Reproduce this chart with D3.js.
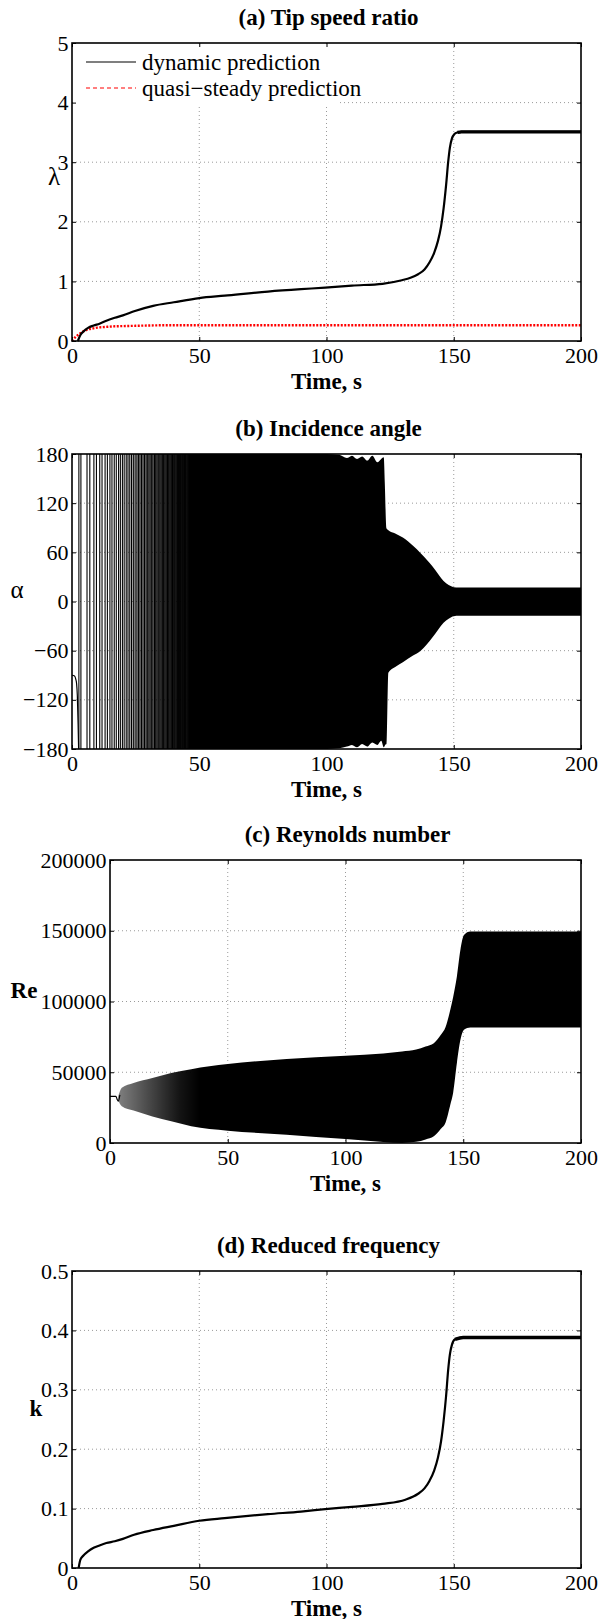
<!DOCTYPE html>
<html>
<head>
	<title>Rotor start-up: tip speed ratio, incidence, Reynolds, reduced frequency</title>
	<script src="https://d3js.org/d3.v7.min.js"></script>
	<style>
		body { margin: 0; background: #fff; }
		svg text { font-family: "Liberation Serif", "Times New Roman", Times, serif; fill: #000; }
		.tick line { stroke: #000; stroke-width: 1; }
		.grid { stroke: #9a9a9a; stroke-width: 1; stroke-dasharray: 1,3; }
	</style>
</head>
<body>
	<div id="plot"></div>
	<script type="text/javascript">
		// vars
		var w = 601, h = 1619;
		var serif = '"Liberation Serif", "Times New Roman", Times, serif';

		// data
		var timeTicks = [0, 50, 100, 150, 200];

		// (a) tip speed ratio
		var lambdaTicks = [0, 1, 2, 3, 4, 5];
		var lambdaT   = [2.3, 3.3, 4.5, 6.3, 8.5, 10.8, 13.5, 16.8, 20, 24.4, 31.9, 40, 50, 60, 77, 90, 99.5, 110, 122, 129.6, 133, 136, 138.5, 140.5, 142.3, 143.8, 145, 146, 147, 147.8, 148.5, 149.3, 150.2, 151.5, 153, 200];
		var lambdaDyn = [0, 0.1, 0.16, 0.22, 0.26, 0.29, 0.34, 0.39, 0.43, 0.5, 0.59, 0.65, 0.72, 0.76, 0.83, 0.87, 0.895, 0.93, 0.96, 1.02, 1.06, 1.12, 1.2, 1.32, 1.48, 1.68, 1.92, 2.22, 2.62, 3.0, 3.25, 3.4, 3.47, 3.5, 3.51, 3.51];
		var lambdaQsT = [0, 1, 2, 3, 4, 6, 8, 10, 13, 16, 20, 25, 30, 40, 60, 100, 150, 200];
		var lambdaQs  = [0, 0.05, 0.09, 0.12, 0.15, 0.19, 0.21, 0.225, 0.235, 0.245, 0.25, 0.255, 0.26, 0.265, 0.265, 0.265, 0.265, 0.265];

		// (b) incidence angle: start curve, wrap strokes of the early part, envelope of the dense part
		var alphaTicks = [-180, -120, -60, 0, 60, 120, 180];
		var alphaInitT = [0, 1, 1.5, 1.8, 2.1, 2.4, 2.6];
		var alphaInit  = [-90, -91, -95, -100, -115, -150, -180];
		var alphaStrokeT = [2.7, 3.5, 5.9, 7.0, 8.6, 9.6, 10.9, 11.8, 13.0, 13.9, 14.9, 15.7, 16.6, 17.4, 18.3, 19.0, 19.8, 20.5, 21.3, 22.0, 22.7, 23.4, 24.1, 24.8,
			25.5, 26.1, 26.7, 27.3, 27.9, 28.5, 29.1, 29.6, 30.2, 30.7, 31.3, 31.8, 32.4, 32.9, 33.4, 33.9, 34.5, 35.0, 35.5, 36.0, 36.5, 37.0, 37.5, 38.0,
			38.5, 39.0, 39.5, 40.0, 40.4, 40.9, 41.4, 41.8, 42.3, 42.7, 43.2, 43.6, 44.1, 44.5];
		var alphaEnvT  = [3, 100, 105, 108, 110, 112, 114, 116, 118, 120, 121.5, 122.5, 122.9, 123.5, 123.6, 124.3, 127, 130, 134, 137, 141.6, 144, 146, 148, 150, 152, 200];
		var alphaUpper = [180, 180, 179, 175, 178, 174, 177, 172, 178, 170, 174, 176, 145, 90, 89, 87, 83, 78, 68, 59, 43, 33, 25, 20, 17.5, 17, 17];
		var alphaLower = [-180, -180, -179, -177, -175, -178, -174, -177, -172, -175, -170, -178, -176, -174, -175, -87, -80, -74, -66, -60, -44, -34, -26, -21, -18, -17.5, -17.5];

		// (c) Reynolds number
		var reTicks = [0, 50000, 100000, 150000, 200000];
		var reInitT = [0, 2.5, 3.0, 3.5, 4.2];
		var reInit  = [33000, 33000, 31000, 29500, 34000];
		var reEnvT  = [3.5, 5, 10, 18, 26, 34.5, 50, 75, 100, 116, 124, 130, 134, 137.5, 140.5, 142.5, 144.5, 145.7, 147.3, 148.8, 150.3, 153, 200];
		var reUpper = [33000, 39000, 42400, 45900, 49400, 52200, 55800, 59300, 61600, 63300, 64700, 66000, 68200, 70500, 76500, 82000, 94100, 103000, 117600, 136500, 147000, 149400, 149400];
		var reLower = [30000, 26000, 23000, 18800, 15300, 11800, 8700, 5900, 2800, 700, 0, 800, 2500, 4700, 10000, 14500, 27000, 35300, 56500, 72900, 80000, 81600, 81600];

		// (d) reduced frequency
		var kTicks = [0, 0.1, 0.2, 0.3, 0.4, 0.5];
		var kT   = [2.6, 3.3, 4.5, 6.3, 8.5, 10.8, 13.5, 16.8, 20, 24.4, 31.9, 40, 50, 60, 77, 90, 99.5, 110, 122, 131, 136, 138.5, 140.5, 142.3, 143.8, 145, 146, 147, 147.8, 148.5, 149.3, 150.5, 153.7, 200];
		var kDyn = [0, 0.014, 0.021, 0.028, 0.034, 0.038, 0.042, 0.045, 0.049, 0.056, 0.064, 0.071, 0.0795, 0.084, 0.0907, 0.095, 0.099, 0.103, 0.108, 0.115, 0.125, 0.134, 0.147, 0.164, 0.186, 0.213, 0.247, 0.29, 0.333, 0.36, 0.376, 0.385, 0.388, 0.388];

		var svg = d3.select("#plot")
			.append("svg")
			.attr("width", w)
			.attr("height", h)
			.style("font-family", serif);
		svg.append("rect").attr("width", w).attr("height", h).attr("fill", "#fff");
		var defs = svg.append("defs");

		// one set of axes: box, inward ticks on all sides, dotted grid, labels
		function panel(p) {
			var x = d3.scaleLinear().domain([0, 200]).range([p.left, p.right]);
			var y = d3.scaleLinear().domain(d3.extent(p.yTicks)).range([p.bottom, p.top]);
			var g = svg.append("g");

			// grid
			g.selectAll(".gx").data(timeTicks.slice(1, -1)).enter().append("line")
				.attr("class", "grid")
				.attr("x1", d => x(d)).attr("x2", d => x(d))
				.attr("y1", p.top).attr("y2", p.bottom);
			g.selectAll(".gy").data(p.yTicks.slice(1, -1)).enter().append("line")
				.attr("class", "grid")
				.attr("x1", p.left).attr("x2", p.right)
				.attr("y1", d => y(d)).attr("y2", d => y(d));

			var tk = 4;
			var fmt = p.fmt || (d => d);
			var ax = [
				[d3.axisBottom(x).tickValues(timeTicks).tickFormat(d => d).tickPadding(6.5), "translate(0," + p.bottom + ")"],
				[d3.axisTop(x).tickValues(timeTicks).tickFormat(""), "translate(0," + p.top + ")"],
				[d3.axisLeft(y).tickValues(p.yTicks).tickFormat(fmt).tickPadding(3.5), "translate(" + p.left + ",0)"],
				[d3.axisRight(y).tickValues(p.yTicks).tickFormat(""), "translate(" + p.right + ",0)"]
			];
			var axisGroups = ax.map(function(a) {
				var ag = g.append("g")
					.attr("transform", a[1])
					.call(a[0].tickSizeInner(-tk).tickSizeOuter(0));
				ag.attr("font-family", null).attr("font-size", null);
				ag.select(".domain").remove();
				ag.selectAll("text").style("font-family", serif).style("font-size", "22px").attr("fill", "#000");
				return ag;
			});

			// title and axis labels
			g.append("text")
				.attr("x", (p.left + p.right) / 2 + 2).attr("y", p.top - 18)
				.attr("text-anchor", "middle")
				.style("font-family", serif)
				.style("font-size", "23px").style("font-weight", "bold")
				.text(p.title);
			g.append("text")
				.attr("x", (p.left + p.right) / 2).attr("y", p.bottom + 47.5)
				.attr("text-anchor", "middle")
				.style("font-family", serif)
				.style("font-size", "23px").style("font-weight", "bold")
				.text("Time, s");
			g.append("text")
				.attr("x", p.ylx).attr("y", (p.top + p.bottom) / 2 + p.yly)
				.attr("text-anchor", "middle")
				.style("font-family", serif)
				.style("font-size", p.ylSize).style("font-weight", p.ylBold ? "bold" : "normal")
				.text(p.ylabel);

			p.x = x; p.y = y; p.g = g;
			p.plot = g.append("g");
			p.finish = function() {
				g.append("rect")
					.attr("x", p.left).attr("y", p.top)
					.attr("width", p.right - p.left).attr("height", p.bottom - p.top)
					.attr("fill", "none").attr("stroke", "#000").attr("stroke-width", 1.6);
				axisGroups.forEach(function(ag) { ag.raise(); });
			};
			return p;
		}

		function zip(ts, vs) { return ts.map((t, i) => [t, vs[i]]); }

		// ---------- (a) tip speed ratio ----------
		var pa = panel({ left: 72, right: 581, top: 43, bottom: 341, yTicks: lambdaTicks,
			title: "(a) Tip speed ratio", ylabel: "λ", ylx: 54, yly: -7, ylSize: "25px", ylBold: false });

		// legend background hides the grid behind it
		pa.plot.append("rect")
			.attr("x", 73).attr("y", 44).attr("width", 264).attr("height", 62)
			.attr("fill", "#fff");

		var lineA = d3.line().x(d => pa.x(d[0])).y(d => pa.y(d[1])).curve(d3.curveMonotoneX);
		pa.plot.append("path")
			.attr("d", lineA(zip(lambdaQsT, lambdaQs)))
			.attr("fill", "none").attr("stroke", "#ff0000").attr("stroke-width", 2.4)
			.attr("stroke-dasharray", "2,1.5");
		pa.plot.append("path")
			.attr("d", lineA(zip(lambdaT, lambdaDyn)))
			.attr("fill", "none").attr("stroke", "#000").attr("stroke-width", 2.2);
		// small ripple after spin-up makes the plateau look thicker
		pa.plot.append("path")
			.attr("d", lineA(zip(lambdaT.slice(-3), lambdaDyn.slice(-3))))
			.attr("fill", "none").attr("stroke", "#000").attr("stroke-width", 3.2);

		var legendItems = [
			{ label: "dynamic prediction", color: "#000", dash: null, y: 62 },
			{ label: "quasi\u2212steady prediction", color: "#ff0000", dash: "4,3", y: 88 }
		];
		var lg = pa.plot.selectAll(".leg").data(legendItems).enter().append("g");
		lg.append("line")
			.attr("x1", 86).attr("x2", 136)
			.attr("y1", d => d.y).attr("y2", d => d.y)
			.attr("stroke", d => d.color).attr("stroke-width", 1.2)
			.attr("stroke-dasharray", d => d.dash);
		lg.append("text")
			.attr("x", 142).attr("y", d => d.y + 8)
			.style("font-family", serif)
			.style("font-size", "23px")
			.text(d => d.label);
		pa.finish();

		// ---------- (b) incidence angle ----------
		var pb = panel({ left: 72, right: 581, top: 454, bottom: 749, yTicks: alphaTicks,
			title: "(b) Incidence angle", ylabel: "α", ylx: 17, yly: -4, ylSize: "25px", ylBold: false,
			fmt: d => d < 0 ? "\u2212" + Math.abs(d) : d });

		var gradB = defs.append("linearGradient").attr("id", "fadeB")
			.attr("gradientUnits", "userSpaceOnUse")
			.attr("x1", pb.x(20)).attr("x2", pb.x(46)).attr("y1", 0).attr("y2", 0);
		[[0, 0], [0.4, 0.3], [0.8, 0.75], [1, 1]].forEach(function(s) {
			gradB.append("stop").attr("offset", s[0]).attr("stop-color", "#000").attr("stop-opacity", s[1]);
		});

		var areaB = d3.area()
			.x(d => pb.x(d[0])).y0(d => pb.y(d[2])).y1(d => pb.y(d[1]))
			.curve(d3.curveMonotoneX);
		pb.plot.append("path")
			.attr("d", areaB(alphaEnvT.map((t, i) => [t, alphaUpper[i], alphaLower[i]])))
			.attr("fill", "url(#fadeB)");
		pb.plot.selectAll(".stroke").data(alphaStrokeT).enter().append("line")
			.attr("x1", d => pb.x(d)).attr("x2", d => pb.x(d))
			.attr("y1", pb.y(180)).attr("y2", pb.y(-180))
			.attr("stroke", "#000").attr("stroke-width", 1.1);
		pb.plot.append("path")
			.attr("d", d3.line().x(d => pb.x(d[0])).y(d => pb.y(d[1])).curve(d3.curveMonotoneX)(zip(alphaInitT, alphaInit)))
			.attr("fill", "none").attr("stroke", "#000").attr("stroke-width", 1.2);
		pb.finish();

		// ---------- (c) Reynolds number ----------
		var pc = panel({ left: 110, right: 581, top: 860, bottom: 1143, yTicks: reTicks,
			title: "(c) Reynolds number", ylabel: "Re", ylx: 24, yly: -4, ylSize: "23px", ylBold: true });

		var gradC = defs.append("linearGradient").attr("id", "fadeC")
			.attr("gradientUnits", "userSpaceOnUse")
			.attr("x1", pc.x(3.5)).attr("x2", pc.x(38)).attr("y1", 0).attr("y2", 0);
		[[0, 0.5], [0.35, 0.7], [0.75, 0.92], [1, 1]].forEach(function(s) {
			gradC.append("stop").attr("offset", s[0]).attr("stop-color", "#000").attr("stop-opacity", s[1]);
		});
		var areaC = d3.area()
			.x(d => pc.x(d[0])).y0(d => pc.y(d[2])).y1(d => pc.y(d[1]))
			.curve(d3.curveMonotoneX);
		pc.plot.append("path")
			.attr("d", areaC(reEnvT.map((t, i) => [t, reUpper[i], reLower[i]])))
			.attr("fill", "url(#fadeC)");
		pc.plot.append("path")
			.attr("d", d3.line().x(d => pc.x(d[0])).y(d => pc.y(d[1])).curve(d3.curveMonotoneX)(zip(reInitT, reInit)))
			.attr("fill", "none").attr("stroke", "#000").attr("stroke-width", 1.2);
		pc.finish();

		// ---------- (d) reduced frequency ----------
		var pd = panel({ left: 72, right: 581, top: 1271, bottom: 1568, yTicks: kTicks,
			title: "(d) Reduced frequency", ylabel: "k", ylx: 36, yly: -4, ylSize: "23px", ylBold: true });
		var lineD = d3.line().x(d => pd.x(d[0])).y(d => pd.y(d[1])).curve(d3.curveMonotoneX);
		pd.plot.append("path")
			.attr("d", lineD(zip(kT, kDyn)))
			.attr("fill", "none").attr("stroke", "#000").attr("stroke-width", 2.2);
		// small ripple after spin-up makes the plateau look thicker
		pd.plot.append("path")
			.attr("d", lineD(zip(kT.slice(-3), kDyn.slice(-3))))
			.attr("fill", "none").attr("stroke", "#000").attr("stroke-width", 3.5);
		pd.finish();
	</script>
</body>
</html>
